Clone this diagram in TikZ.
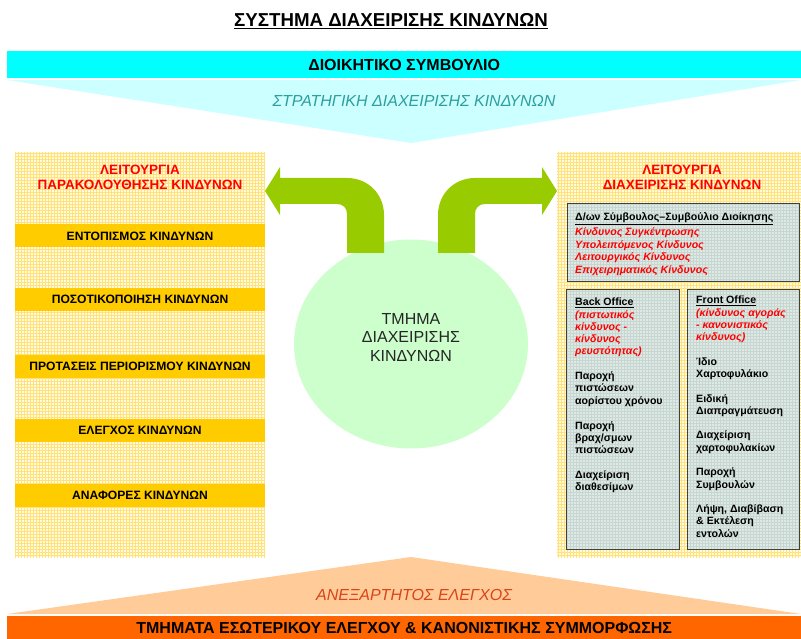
\documentclass[tikz,border=0pt]{standalone}
\usepackage{fontspec}
\setmainfont{Liberation Sans}
\usetikzlibrary{positioning,patterns,shapes.geometric}

\definecolor{boardcyan}{HTML}{00FFFF}
\definecolor{stratcyan}{HTML}{CCFFFF}
\definecolor{strattext}{HTML}{2E9E9E}
\definecolor{panelyellow}{HTML}{FFFAE0}
\definecolor{gridyellow}{HTML}{FFE37A}
\definecolor{baryellow}{HTML}{FFCC00}
\definecolor{leafgreen}{HTML}{99CC00}
\definecolor{mintgreen}{HTML}{CCFFCC}
\definecolor{officegrey}{HTML}{DCEAE6}
\definecolor{auditpeach}{HTML}{FFCC99}
\definecolor{auditorange}{HTML}{FF6600}
\definecolor{audittext}{HTML}{D9441A}

\begin{document}
\begin{tikzpicture}[
x=1pt,y=-1pt,
banner/.style={
  inner sep=0pt,
  minimum width=794pt,
  minimum height=27pt,
  anchor=north west,
  font=\bfseries\fontsize{16}{18}\selectfont
  },
panel/.style={
  preaction={fill=panelyellow},
  pattern=grid,
  pattern color=gridyellow,
  inner sep=0pt,
  anchor=north west
  },
redtitle/.style={
  align=center,
  text=red,
  font=\bfseries\fontsize{13.5}{15.5}\selectfont
  },
riskbar/.style={
  fill=baryellow,
  minimum width=250pt,
  minimum height=23pt,
  inner sep=0pt,
  font=\bfseries\fontsize{12.1}{14}\selectfont
  },
office/.style={
  preaction={fill=officegrey},
  pattern=grid,
  pattern color=officegrey!80!gray,
  draw=black!75,
  line width=0.8pt,
  inner sep=0pt,
  anchor=north west
  },
officetext/.style={
  align=left,
  inner sep=0pt,
  anchor=north west,
  font=\bfseries\fontsize{10.6}{12.2}\selectfont
  },
slogan/.style={
  font=\itshape\fontsize{16}{18}\selectfont
  }
]
\useasboundingbox (0,0) rectangle (801,639);

\node[anchor=base,font=\bfseries\fontsize{18.7}{21}\selectfont] (title) at (391,27)
  {\underline{ΣΥΣΤΗΜΑ ΔΙΑΧΕΙΡΙΣΗΣ ΚΙΝΔΥΝΩΝ}};

% board and strategy
\node[banner,fill=boardcyan] (board) at (7,51) {ΔΙΟΙΚΗΤΙΚΟ ΣΥΜΒΟΥΛΙΟ};
\coordinate (stratTip) at (411,143);
\fill[stratcyan] (7,80) -- (801,80) -- (stratTip) -- cycle;
\node[slogan,text=strattext] (strategy) at (414,101) {ΣΤΡΑΤΗΓΙΚΗ ΔΙΑΧΕΙΡΙΣΗΣ ΚΙΝΔΥΝΩΝ};

% monitoring panel
\node[panel,minimum width=250pt,minimum height=405pt] (monpanel) at (15,152) {};
\node[redtitle] (montitle) at (140,177.5) {ΛΕΙΤΟΥΡΓΙΑ\\ΠΑΡΑΚΟΛΟΥΘΗΣΗΣ ΚΙΝΔΥΝΩΝ};
\foreach \i/\yy/\txt in {1/236/ΕΝΤΟΠΙΣΜΟΣ ΚΙΝΔΥΝΩΝ,
                         2/299.5/ΠΟΣΟΤΙΚΟΠΟΙΗΣΗ ΚΙΝΔΥΝΩΝ,
                         3/366/ΠΡΟΤΑΣΕΙΣ ΠΕΡΙΟΡΙΣΜΟΥ ΚΙΝΔΥΝΩΝ,
                         4/430.5/ΕΛΕΓΧΟΣ ΚΙΝΔΥΝΩΝ,
                         5/495.5/ΑΝΑΦΟΡΕΣ ΚΙΝΔΥΝΩΝ}
  \node[riskbar] (bar\i) at (140,\yy) {\txt};

% management panel
\node[panel,minimum width=244pt,minimum height=405pt] (mgmtpanel) at (557,152) {};
\node[redtitle] (mgmttitle) at (682,177.5) {ΛΕΙΤΟΥΡΓΙΑ\\ΔΙΑΧΕΙΡΙΣΗΣ ΚΙΝΔΥΝΩΝ};

\node[office,minimum width=232pt,minimum height=78pt] (ceobox) at (567,203) {};
\node[officetext,font=\bfseries\fontsize{10.6}{12.6}\selectfont] (ceotext) at (575,212)
  {\underline{Δ/ων Σύμβουλος–Συμβούλιο Διοίκησης}\\[3pt]
   \textcolor{red}{\itshape Κίνδυνος Συγκέντρωσης}\\
   \textcolor{red}{\itshape Υπολειπόμενος Κίνδυνος}\\
   \textcolor{red}{\itshape Λειτουργικός Κίνδυνος}\\
   \textcolor{red}{\itshape Επιχειρηματικός Κίνδυνος}};

\node[office,minimum width=113pt,minimum height=260pt] (backbox) at (566,289) {};
\node[officetext] (backtext) at (575,298)
  {\underline{Back Office}\\
   \textcolor{red}{\itshape (πιστωτικός}\\
   \textcolor{red}{\itshape κίνδυνος -}\\
   \textcolor{red}{\itshape κίνδυνος}\\
   \textcolor{red}{\itshape ρευστότητας)}\\[12.8pt]
   Παροχή\\ πιστώσεων\\ αορίστου χρόνου\\[12.8pt]
   Παροχή\\ βραχ/σμων\\ πιστώσεων\\[12.8pt]
   Διαχείριση\\ διαθεσίμων};

\node[office,minimum width=112pt,minimum height=260pt] (frontbox) at (687,289) {};
\node[officetext] (fronttext) at (696,296)
  {\underline{Front Office}\\
   \textcolor{red}{\itshape (κίνδυνος αγοράς}\\
   \textcolor{red}{\itshape - κανονιστικός}\\
   \textcolor{red}{\itshape κίνδυνος)}\\[12.5pt]
   Ίδιο\\ Χαρτοφυλάκιο\\[12.5pt]
   Ειδική\\ Διαπραγμάτευση\\[12.5pt]
   Διαχείριση\\ χαρτοφυλακίων\\[12.5pt]
   Παροχή\\ Συμβουλών\\[12.5pt]
   Λήψη, Διαβίβαση\\ \& Εκτέλεση\\ εντολών};

% risk department
\node[ellipse,fill=mintgreen,minimum width=234pt,minimum height=209pt,inner sep=0pt] (dept) at (411,344) {};
\node[align=center,font=\fontsize{16}{18.5}\selectfont,text=black!85] (depttext) at (411,337)
  {ΤΜΗΜΑ\\ΔΙΑΧΕΙΡΙΣΗΣ\\ΚΙΝΔΥΝΩΝ};

\fill[leafgreen] (347,253) -- (347,214) .. controls (347,208) and (343,204) .. (337,204)
  -- (280,204) -- (280,215) -- (265,191) -- (280,167) -- (280,178) -- (347,178)
  .. controls (368,178) and (384,194) .. (384,215) -- (384,253) -- cycle;
\fill[leafgreen] (475,253) -- (475,214) .. controls (475,208) and (479,204) .. (485,204)
  -- (542,204) -- (542,215) -- (557,191) -- (542,167) -- (542,178) -- (475,178)
  .. controls (454,178) and (438,194) .. (438,215) -- (438,253) -- cycle;

% independent audit
\coordinate (auditTip) at (411,557);
\fill[auditpeach] (7,614) -- (801,614) -- (auditTip) -- cycle;
\node[slogan,text=audittext] (audit) at (414,595) {ΑΝΕΞΑΡΤΗΤΟΣ ΕΛΕΓΧΟΣ};
\node[banner,fill=auditorange,minimum height=24pt] (auditbar) at (7,616)
  {ΤΜΗΜΑΤΑ ΕΣΩΤΕΡΙΚΟΥ ΕΛΕΓΧΟΥ \& ΚΑΝΟΝΙΣΤΙΚΗΣ ΣΥΜΜΟΡΦΩΣΗΣ};

\end{tikzpicture}
\end{document}
